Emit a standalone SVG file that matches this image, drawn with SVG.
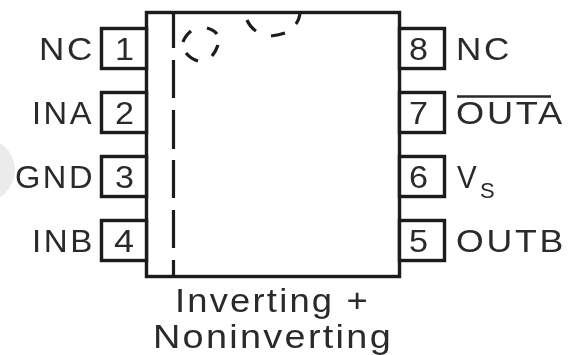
<svg xmlns="http://www.w3.org/2000/svg" width="569" height="355" viewBox="0 0 569 355">
<style>
.pin{fill:#fff;stroke:#1a1a1a;stroke-width:3.4}
.body{fill:#fff;stroke:#1a1a1a;stroke-width:3.4}
.dash{fill:none;stroke:#1a1a1a;stroke-width:3.2}
text{font-family:"Liberation Sans",Arial,sans-serif;fill:#2a2a2a}
.lab{font-size:31px;letter-spacing:2.4px}
.num{font-size:31px}
.cap{font-size:33px;letter-spacing:2px}
</style>
<defs><filter id="soft" x="-5%" y="-5%" width="110%" height="110%"><feGaussianBlur stdDeviation="0.55"/></filter></defs>
<g filter="url(#soft)">
<circle id="watermark" cx="-17" cy="170" r="32" fill="#ebebeb"/>
<g id="body"><rect class="body" x="146.5" y="12.5" width="253" height="264"/></g>
<g id="pin1"><rect class="pin" x="101.5" y="28.5" width="45" height="40"/><text class="num" x="115" y="60" textLength="19" lengthAdjust="spacingAndGlyphs">1</text><text class="lab" x="39" y="60" textLength="56" lengthAdjust="spacingAndGlyphs">NC</text></g>
<g id="pin2"><rect class="pin" x="101.5" y="92.5" width="45" height="40"/><text class="num" x="115" y="124" textLength="19" lengthAdjust="spacingAndGlyphs">2</text><text class="lab" x="32" y="124" textLength="62" lengthAdjust="spacingAndGlyphs">INA</text></g>
<g id="pin3"><rect class="pin" x="101.5" y="156.5" width="45" height="40"/><text class="num" x="115" y="188" textLength="19" lengthAdjust="spacingAndGlyphs">3</text><text class="lab" x="15" y="188" textLength="80" lengthAdjust="spacingAndGlyphs">GND</text></g>
<g id="pin4"><rect class="pin" x="101.5" y="220.5" width="45" height="40"/><text class="num" x="114" y="252" textLength="20" lengthAdjust="spacingAndGlyphs">4</text><text class="lab" x="32" y="252" textLength="63" lengthAdjust="spacingAndGlyphs">INB</text></g>
<g id="pin8"><rect class="pin" x="399.5" y="28.5" width="45" height="40"/><text class="num" x="409" y="60" textLength="19" lengthAdjust="spacingAndGlyphs">8</text><text class="lab" x="456" y="60" textLength="56" lengthAdjust="spacingAndGlyphs">NC</text></g>
<g id="pin7"><rect class="pin" x="399.5" y="92.5" width="45" height="40"/><text class="num" x="409" y="124" textLength="19" lengthAdjust="spacingAndGlyphs">7</text><text class="lab" x="456" y="124" textLength="109" lengthAdjust="spacingAndGlyphs">OUTA</text><path d="M457 96.5H551" stroke="#2a2a2a" stroke-width="2.4" fill="none"/></g>
<g id="pin6"><rect class="pin" x="399.5" y="156.5" width="45" height="40"/><text class="num" x="409" y="188" textLength="19" lengthAdjust="spacingAndGlyphs">6</text><text class="lab" x="457" y="188" textLength="22" lengthAdjust="spacingAndGlyphs">V</text><text x="480" y="198" font-size="22">S</text></g>
<g id="pin5"><rect class="pin" x="399.5" y="220.5" width="45" height="40"/><text class="num" x="409" y="252" textLength="19" lengthAdjust="spacingAndGlyphs">5</text><text class="lab" x="456" y="252" textLength="110" lengthAdjust="spacingAndGlyphs">OUTB</text></g>
<g id="connectors">
<path class="dash" d="M173.5 12V48M173.5 60V98M173.5 110V149M173.5 160V198M173.5 210V248M173.5 260V276"/>
<path class="dash" d="M191 31Q185 36 183 42M186 53Q191 59 198 61M212 56Q216 51 218 45M217 34Q214 30 207 28"/>
<path class="dash" d="M247 20Q250 27 256 31M271 36Q279 35 285 33M296 24Q299 20 300 14"/>
</g>
<g id="caption"><text class="cap" x="175" y="312" textLength="195" lengthAdjust="spacingAndGlyphs">Inverting +</text><text class="cap" x="153" y="348" textLength="240" lengthAdjust="spacingAndGlyphs">Noninverting</text></g>
</g>
</svg>
